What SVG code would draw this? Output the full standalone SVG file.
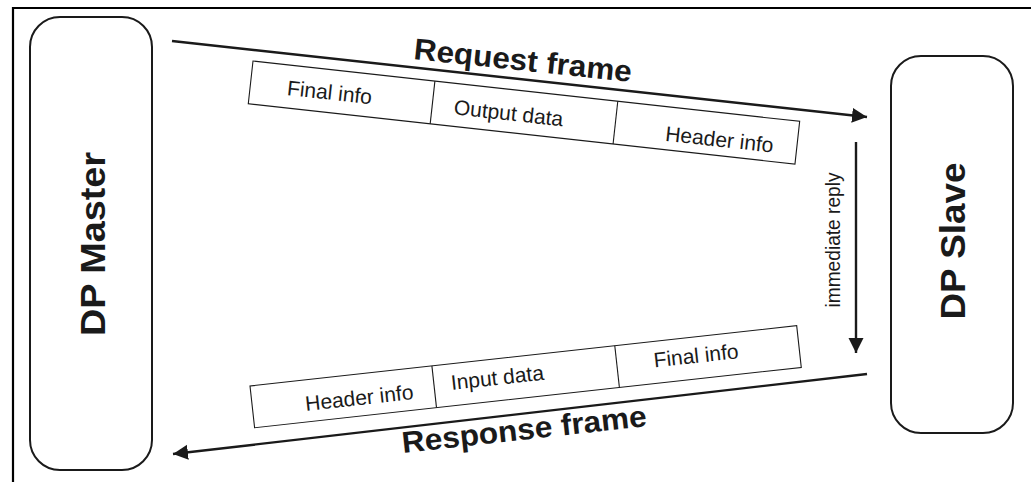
<svg xmlns="http://www.w3.org/2000/svg" width="1031" height="482" viewBox="0 0 1031 482">
<style>
.box{fill:#fff;stroke:#1a1a1a;stroke-width:2}
.cell{fill:#fff;stroke:#1a1a1a;stroke-width:1.1}
.conn{fill:none;stroke:#1a1a1a;stroke-width:2.4}
.big{font-family:"Liberation Sans",Arial,sans-serif;font-weight:bold;fill:#1a1a1a}
.lbl{font-family:"Liberation Sans",Arial,sans-serif;font-size:21px;fill:#1a1a1a}
</style>
<defs>
<marker id="ah" markerUnits="userSpaceOnUse" markerWidth="16" markerHeight="16" refX="15" refY="7.5" orient="auto">
<path d="M0,0 L15,7.5 L0,15 z" fill="#1a1a1a"/>
</marker>
</defs>
<rect x="0" y="0" width="1031" height="482" fill="#fff"/>
<path d="M13,482 L13,8 L1031,8" fill="none" stroke="#000" stroke-width="2.2"/>
<g id="master">
<rect class="box" x="30" y="17" width="122" height="453" rx="30" ry="30"/>
<text class="big" font-size="35" text-anchor="middle" transform="translate(105,244) rotate(-90)" textLength="184" lengthAdjust="spacingAndGlyphs">DP Master</text>
</g>
<g id="slave">
<rect class="box" x="891" y="56" width="122" height="377" rx="30" ry="30"/>
<text class="big" font-size="35" text-anchor="middle" transform="translate(965,241) rotate(-90)" textLength="157" lengthAdjust="spacingAndGlyphs">DP Slave</text>
</g>
<g id="request-table" transform="translate(253,61) rotate(6.3)">
<rect class="cell" x="0" y="0" width="550" height="43"/>
<line class="cell" x1="183" y1="0" x2="183" y2="43"/>
<line class="cell" x1="367" y1="0" x2="367" y2="43"/>
<text class="lbl" x="37" y="30">Final info</text>
<text class="lbl" x="205" y="31">Output data</text>
<text class="lbl" x="418" y="34">Header info</text>
</g>
<g id="response-table" transform="translate(250,386) rotate(-6.3)">
<rect class="cell" x="0" y="0" width="550" height="42"/>
<line class="cell" x1="183" y1="0" x2="183" y2="42"/>
<line class="cell" x1="367" y1="0" x2="367" y2="42"/>
<text class="lbl" x="53" y="31">Header info</text>
<text class="lbl" x="200" y="26">Input data</text>
<text class="lbl" x="404" y="26">Final info</text>
</g>
<g id="connectors">
<path class="conn" d="M172,41 L867,117" marker-end="url(#ah)"/>
<path class="conn" d="M867,374 L173,454" marker-end="url(#ah)"/>
<path class="conn" d="M856,142 L856,353" marker-end="url(#ah)"/>
<text class="big" font-size="30" transform="translate(413,59) rotate(6)" textLength="219" lengthAdjust="spacingAndGlyphs">Request frame</text>
<text class="big" font-size="30" transform="translate(403,453) rotate(-6.3)" textLength="246" lengthAdjust="spacingAndGlyphs">Response frame</text>
<text class="lbl" font-size="19" text-anchor="middle" transform="translate(840,240) rotate(-90)" textLength="135" lengthAdjust="spacingAndGlyphs">immediate reply</text>
</g>
</svg>
